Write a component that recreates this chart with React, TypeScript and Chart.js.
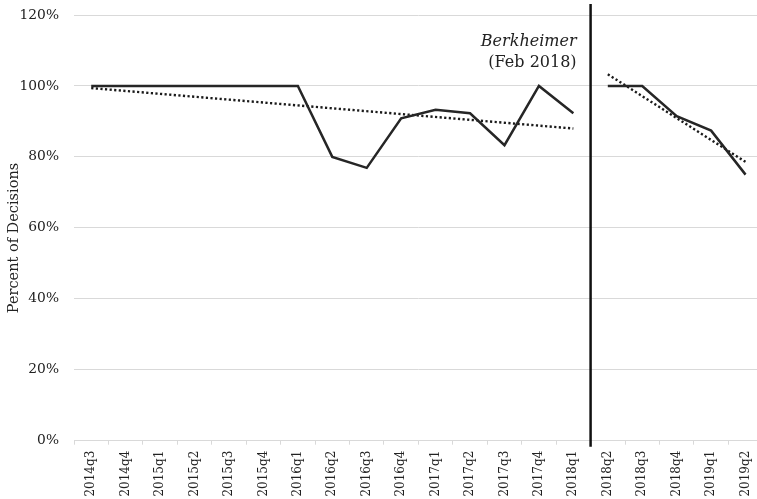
import React, { useEffect, useRef } from "react";
import { Chart, registerables } from "chart.js";

Chart.register(...registerables);

const quarters: string[] = [
  "2014q3", "2014q4", "2015q1", "2015q2", "2015q3", "2015q4", "2016q1", "2016q2",
  "2016q3", "2016q4", "2017q1", "2017q2", "2017q3", "2017q4", "2018q1",
  "2018q2", "2018q3", "2018q4", "2019q1", "2019q2",
];

// Percent of decisions before Berkheimer (2014q3 - 2018q1)
const beforeValues: number[] = [100, 100, 100, 100, 100, 100, 100, 80, 76.9, 90.9, 93.3, 92.3, 83.3, 100, 92.3];
// After Berkheimer (2018q2 - 2019q2)
const afterValues: number[] = [100, 100, 91.5, 87.4, 75];
// Linear trend endpoints (start, end) for each period
const beforeTrend: number[] = [99.4, 88.0];
const afterTrend: number[] = [103.3, 78.6];

const yTicks: number[] = [0, 20, 40, 60, 80, 100, 120];
const annotationTitle = "Berkheimer";
const annotationSub = "(Feb 2018)";
const yTitle = "Percent of Decisions";

const FONT = "'DejaVu Serif', 'Liberation Serif', serif";

export default function App() {
  const canvasRef = useRef<HTMLCanvasElement | null>(null);

  useEffect(() => {
    const n = quarters.length;
    const nb = beforeValues.length;
    const beforeData = quarters.map((_, i) => (i < nb ? beforeValues[i] : null));
    const afterData = quarters.map((_, i) => (i >= nb ? afterValues[i - nb] : null));
    const beforeTrendData = quarters.map((_, i) =>
      i === 0 ? beforeTrend[0] : i === nb - 1 ? beforeTrend[1] : null
    );
    const afterTrendData = quarters.map((_, i) =>
      i === nb ? afterTrend[0] : i === n - 1 ? afterTrend[1] : null
    );

    const overlay = {
      id: "overlay",
      afterDatasetsDraw(chart: any) {
        const ctx = chart.ctx;
        const xs = chart.scales.x;
        const area = chart.chartArea;
        const lineX = (xs.getPixelForValue(nb - 1) + xs.getPixelForValue(nb)) / 2;
        ctx.save();
        ctx.strokeStyle = "#111";
        ctx.lineWidth = 2.5;
        ctx.beginPath();
        ctx.moveTo(lineX, area.top - 11);
        ctx.lineTo(lineX, area.bottom + 6);
        ctx.stroke();

        ctx.fillStyle = "#222";
        ctx.textAlign = "right";
        ctx.textBaseline = "alphabetic";
        ctx.font = `italic 16px ${FONT}`;
        ctx.fillText(annotationTitle, lineX - 14, area.top + 31);
        ctx.font = `16px ${FONT}`;
        ctx.fillText(annotationSub, lineX - 14, area.top + 52);

        // y-axis title
        ctx.translate(14, 238);
        ctx.rotate(-Math.PI / 2);
        ctx.textAlign = "center";
        ctx.textBaseline = "middle";
        ctx.font = `14.5px ${FONT}`;
        ctx.fillStyle = "#222";
        ctx.fillText(yTitle, 0, 0);
        ctx.restore();
      },
    };

    const chart = new Chart(canvasRef.current as HTMLCanvasElement, {
      type: "line",
      data: {
        labels: quarters,
        datasets: [
          {
            data: beforeData,
            borderColor: "#262626",
            borderWidth: 2.5,
            pointRadius: 0,
            spanGaps: false,
            tension: 0,
          },
          {
            data: afterData,
            borderColor: "#262626",
            borderWidth: 2.5,
            pointRadius: 0,
            spanGaps: false,
            tension: 0,
          },
          {
            data: beforeTrendData,
            borderColor: "#1a1a1a",
            borderWidth: 2.4,
            borderDash: [2.2, 2.4],
            pointRadius: 0,
            spanGaps: true,
            tension: 0,
          },
          {
            data: afterTrendData,
            borderColor: "#1a1a1a",
            borderWidth: 2.4,
            borderDash: [2.2, 2.4],
            pointRadius: 0,
            spanGaps: true,
            tension: 0,
          },
        ],
      },
      options: {
        animation: false,
        responsive: true,
        maintainAspectRatio: false,
        layout: { padding: { top: 15, right: 1.5, bottom: 0, left: 0 } },
        plugins: {
          legend: { display: false },
          tooltip: { enabled: false },
        },
        scales: {
          x: {
            type: "category",
            offset: true,
            grid: {
              offset: true,
              drawOnChartArea: false,
              drawTicks: true,
              tickLength: 4,
              color: "#d9d9d9",
            },
            border: { display: true, color: "#d9d9d9" },
            ticks: {
              autoSkip: false,
              minRotation: 90,
              maxRotation: 90,
              padding: 6,
              color: "#222",
              font: { family: FONT, size: 12 },
            },
            afterFit(scale: any) {
              scale.height = 58.3;
            },
          },
          y: {
            min: 0,
            max: 120,
            afterBuildTicks(scale: any) {
              scale.ticks = yTicks.map((v) => ({ value: v }));
            },
            grid: { color: "#d9d9d9", drawTicks: false, lineWidth: 1 },
            border: { display: false },
            ticks: {
              padding: 15,
              color: "#222",
              font: { family: FONT, size: 13.8 },
              callback: (v: any) => `${v}%`,
            },
            afterFit(scale: any) {
              scale.width = 74;
              scale.paddingTop = 0;
              scale.paddingBottom = 0;
            },
          },
        },
      },
      plugins: [overlay],
    });
    return () => chart.destroy();
  }, []);

  return (
    <div
      style={{
        position: "fixed",
        left: 0,
        top: 0,
        width: 757,
        height: 499,
        overflow: "hidden",
        background: "#fff",
      }}
    >
      <div style={{ position: "relative", width: 766, height: 499 }}>
        <canvas ref={canvasRef} />
      </div>
    </div>
  );
}
